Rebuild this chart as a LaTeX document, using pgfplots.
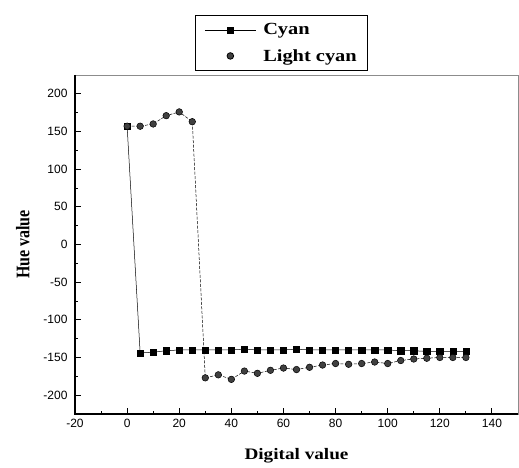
\documentclass[border=0pt]{standalone}
\usepackage{fontspec}
\setmainfont{Liberation Serif}
\setsansfont{Liberation Sans}
\usepackage{graphicx}
\usepackage{pgfplots}
\pgfplotsset{compat=1.18}
\begin{document}
\begin{tikzpicture}[x=1pt,y=1pt]
\begin{axis}[
  at={(0,0)}, anchor=south west,
  scale only axis,
  width=443pt, height=339pt,
  xmin=-20, xmax=150,
  ymin=-225, ymax=225,
  xtick={-20,0,...,140},
  ytick={-200,-150,...,200},
  minor x tick num=1,
  minor y tick num=1,
  tick align=inside,
  xtick pos=bottom, ytick pos=left,
  major tick length=6pt, minor tick length=3pt,
  every tick/.style={black, line width=0.9pt},
  axis line style={draw=black!45, line width=0.5pt},
  /pgf/number format/assume math mode=true,
  tick label style={font=\sffamily\fontsize{12}{14}\selectfont},
  yticklabel style={xshift=-4pt},
  xticklabel style={yshift=-2pt},
  xlabel={\scalebox{1.2}[1]{\bfseries Digital value}},
  ylabel={\scalebox{1}[1.2]{\bfseries Hue value}},
  label style={font=\rmfamily\fontsize{16}{19}\selectfont},
  xlabel style={yshift=-14pt},
  ylabel style={yshift=7pt},
  legend style={at={(0.271,1)}, anchor=south west, yshift=4pt,
    draw=black, line width=0.8pt, row sep=9pt,
    font=\rmfamily\bfseries\fontsize{17}{20}\selectfont,
    inner xsep=9pt, inner ysep=6pt},
  legend cell align=left,
  legend image code/.code={\draw[mark repeat=2,mark phase=2,#1] plot coordinates {(0cm,0cm) (0.9cm,0cm) (1.8cm,0cm)};},
  clip=false,
]
\addlegendimage{black, line width=0.6pt, mark=square*, mark size=3.1pt, mark options={solid, fill=black}}
\addlegendentry{\hspace{5pt}\scalebox{1.2}[1]{Cyan}}
\addlegendimage{only marks, mark=*, mark size=3.3pt, mark options={draw=black, fill=black!75}}
\addlegendentry{\hspace{5pt}\scalebox{1.2}[1]{Light cyan}}
\addplot[forget plot, black, line width=0.5pt, mark=square*, mark size=3.1pt, mark options={solid, fill=black}] coordinates {
(0,157) (5,-144) (10,-143) (15,-141) (20,-140) (25,-140) (30,-140) (35,-140) (40,-140) (45,-139) (50,-140) (55,-140) (60,-140) (65,-139) (70,-140) (75,-140) (80,-140) (85,-140) (90,-140) (95,-140) (100,-140) (105,-141) (110,-141) (115,-142) (120,-142) (125,-142) (130,-142)
};
\addplot[forget plot, black, line width=0.5pt, dash pattern=on 3pt off 1.5pt, mark=*, mark size=3.3pt, mark options={solid, draw=black, fill=black!75}] coordinates {
(0,157) (5,157) (10,160) (15,171) (20,176) (25,163) (30,-177) (35,-173) (40,-179) (45,-168) (50,-171) (55,-167) (60,-164) (65,-166) (70,-163) (75,-160) (80,-158) (85,-159) (90,-158) (95,-156) (100,-158) (105,-154) (110,-152) (115,-151) (120,-150) (125,-150) (130,-150)
};
\draw[black, line width=1.3pt] (rel axis cs:0,1) -- (rel axis cs:0,0) -- (rel axis cs:1,0);
\end{axis}
\path (-75pt,-54pt) rectangle (444pt,414pt);
\end{tikzpicture}
\end{document}
